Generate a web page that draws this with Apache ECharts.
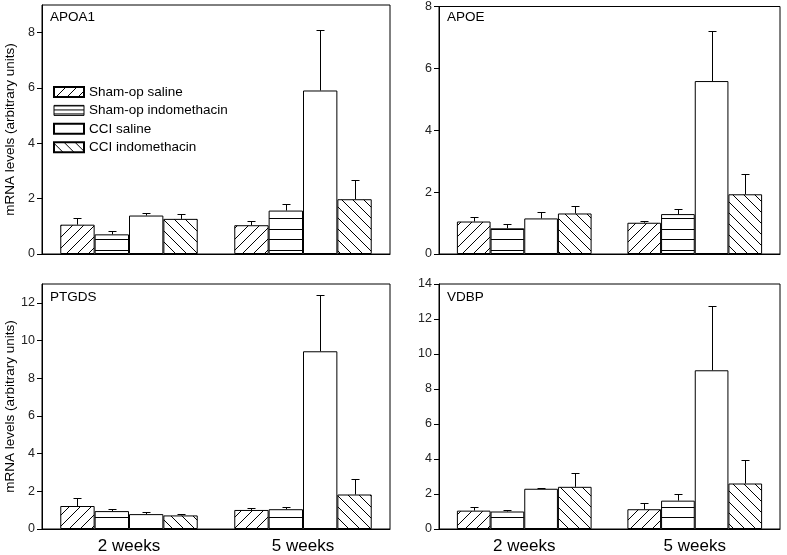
<!DOCTYPE html>
<html><head><meta charset="utf-8">
<script src="https://cdn.jsdelivr.net/npm/echarts@6/dist/echarts.min.js"></script>
<style>html,body{margin:0;padding:0;background:#fff}#c{width:787px;height:555px}</style>
</head><body><div id="c"></div>
<script>
const categories = ['2 weeks', '5 weeks'];
const groups = ['Sham-op saline', 'Sham-op indomethacin', 'CCI saline', 'CCI indomethacin'];
const panels = ['APOA1', 'APOE', 'PTGDS', 'VDBP'];

// Means [2 weeks, 5 weeks] for each group, per panel
const apoa1Mean = [[1.06, 1.04], [0.71, 1.57], [1.39, 5.91], [1.27, 1.98]];
const apoa1Top  = [[1.29, 1.20], [0.83, 1.81], [1.50, 8.09], [1.44, 2.68]];
const apoeMean  = [[1.05, 1.01], [0.83, 1.29], [1.15, 5.59], [1.31, 1.93]];
const apoeTop   = [[1.19, 1.06], [0.96, 1.47], [1.36, 7.22], [1.54, 2.60]];
const ptgdsMean = [[1.22, 1.01], [0.95, 1.05], [0.79, 9.43], [0.72, 1.83]];
const ptgdsTop  = [[1.62, 1.10], [1.06, 1.16], [0.89, 12.42], [0.79, 2.67]];
const vdbpMean  = [[1.05, 1.13], [1.00, 1.62], [2.30, 9.07], [2.41, 2.60]];
const vdbpTop   = [[1.28, 1.47], [1.07, 1.98], [2.35, 12.72], [3.22, 3.97]];

const yMax = [9, 8, 13, 14];
const yTicks = [[0, 2, 4, 6, 8], [0, 2, 4, 6, 8], [0, 2, 4, 6, 8, 10, 12], [0, 2, 4, 6, 8, 10, 12, 14]];
const yTitle = 'mRNA levels (arbitrary units)';

const means = [apoa1Mean, apoeMean, ptgdsMean, vdbpMean];
const tops = [apoa1Top, apoeTop, ptgdsTop, vdbpTop];

const FONT = 'Liberation Sans, Arial, sans-serif';
const GAP = 0.21;
const grids = [
  {left: 42, top: 5, width: 348, height: 249},
  {left: 439, top: 5, width: 341, height: 249},
  {left: 42, top: 284, width: 348, height: 248},
  {left: 439, top: 284, width: 341, height: 248}
];

function hatch(type, baseY, period) {
  const c = document.createElement('canvas');
  if (type === 'none') {
    return '#ffffff';
  }
  if (type === 'h') {
    const tile = period ? period : 21;
    c.width = 4; c.height = tile;
    const ctx = c.getContext('2d');
    ctx.fillStyle = '#fff'; ctx.fillRect(0, 0, 4, tile);
    ctx.fillStyle = '#000'; ctx.fillRect(0, 0, 4, 1);
    if (!period) ctx.fillRect(0, 10, 4, 1);
    return {image: c, repeat: 'repeat', x: 0, y: ((baseY - 4) % tile)};
  }
  const n = 11;
  c.width = n; c.height = n;
  const ctx = c.getContext('2d');
  ctx.fillStyle = '#fff'; ctx.fillRect(0, 0, n, n);
  ctx.fillStyle = '#000';
  for (let i = 0; i < n; i++) {
    if (type === 'f') ctx.fillRect(i, n - 1 - i, 1, 1);
    else ctx.fillRect(i, i, 1, 1);
  }
  return {image: c, repeat: 'repeat', x: 0, y: baseY % n};
}
const hatchTypes = ['f', 'h', 'none', 'b'];

const option = {
  animation: false,
  backgroundColor: '#fff',
  textStyle: {fontFamily: FONT},
  title: panels.map((p, i) => ({
    text: p, left: grids[i].left + 8, top: grids[i].top + (i < 2 ? 5 : 6), padding: 0,
    textStyle: {fontSize: 13.5, fontWeight: 'normal', color: '#000', fontFamily: FONT}
  })),
  legend: {
    data: groups.map((g, gi) => gi === 1
      ? {name: g, itemStyle: {color: hatch('h', 112, 4), borderColor: '#000', borderWidth: 1}}
      : {name: g}),
    orient: 'vertical', left: 53, top: 85, padding: 0,
    itemWidth: 30, itemHeight: 10, itemGap: 4.4, icon: 'rect', selectedMode: false,
    textStyle: {fontSize: 13.5, lineHeight: 14, color: '#000', fontFamily: FONT}
  },
  grid: grids.map(g => Object.assign({show: true, borderColor: '#000', borderWidth: 1, backgroundColor: 'transparent'}, g)),
  xAxis: grids.map((g, i) => ({
    type: 'category', gridIndex: i, data: categories,
    axisLine: {lineStyle: {color: '#000', width: 1}},
    axisTick: {alignWithLabel: true, length: 4, lineStyle: {color: '#000'}},
    axisLabel: {show: i >= 2, fontSize: 17, color: '#000', margin: 9, fontFamily: FONT}
  })),
  yAxis: grids.map((g, i) => ({
    type: 'value', gridIndex: i, min: 0, max: yMax[i], interval: 2,
    splitLine: {show: false},
    axisLine: {show: true, lineStyle: {color: '#000', width: 1}},
    axisTick: {show: true, length: 5, customValues: yTicks[i], lineStyle: {color: '#000'}},
    axisLabel: {customValues: yTicks[i], fontSize: 12.5, color: '#222', margin: 7, fontFamily: FONT},
    name: (i % 2 === 0) ? yTitle : '', nameLocation: 'middle', nameGap: 25,
    nameTextStyle: {fontSize: 13.5, color: '#000', fontFamily: FONT}
  })),
  series: []
};

function errSeries(gridIdx, gi, meanArr, topArr) {
  return {
    type: 'custom', xAxisIndex: gridIdx, yAxisIndex: gridIdx, z: 5, silent: true,
    name: 'err' + gridIdx + '_' + gi,
    data: categories.map((c, k) => [k, meanArr[k], topArr[k]]),
    encode: {x: 0, y: [1, 2]},
    renderItem(params, api) {
      const ci = api.value(0);
      const band = api.size([1, 0])[0];
      const groupW = band * (1 - GAP);
      const bw = groupW / 4;
      const base = api.coord([ci, api.value(1)]);
      const top = api.coord([ci, api.value(2)]);
      const x = Math.round(base[0] - groupW / 2 + (gi + 0.5) * bw) + 0.5;
      const yt = Math.round(top[1]) + 0.5;
      return {type: 'group', children: [
        {type: 'line', shape: {x1: x, y1: base[1], x2: x, y2: yt}, style: {stroke: '#000', lineWidth: 1}},
        {type: 'line', shape: {x1: x - 4, y1: yt, x2: x + 4, y2: yt}, style: {stroke: '#000', lineWidth: 1}}
      ]};
    }
  };
}

for (let p = 0; p < 4; p++) {
  const baseY = grids[p].top + grids[p].height;
  for (let gi = 0; gi < 4; gi++) {
    option.series.push({
      type: 'bar', name: groups[gi], xAxisIndex: p, yAxisIndex: p,
      data: means[p][gi], barGap: '0%', barCategoryGap: (GAP * 100) + '%',
      itemStyle: {color: hatch(hatchTypes[gi], baseY), borderColor: '#000', borderWidth: 1},
      emphasis: {disabled: true}
    });
  }
  for (let gi = 0; gi < 4; gi++) {
    option.series.push(errSeries(p, gi, means[p][gi], tops[p][gi]));
  }
}

const chart = echarts.init(document.getElementById('c'), null, {renderer: 'canvas'});
chart.setOption(option);
</script>
</body></html>
